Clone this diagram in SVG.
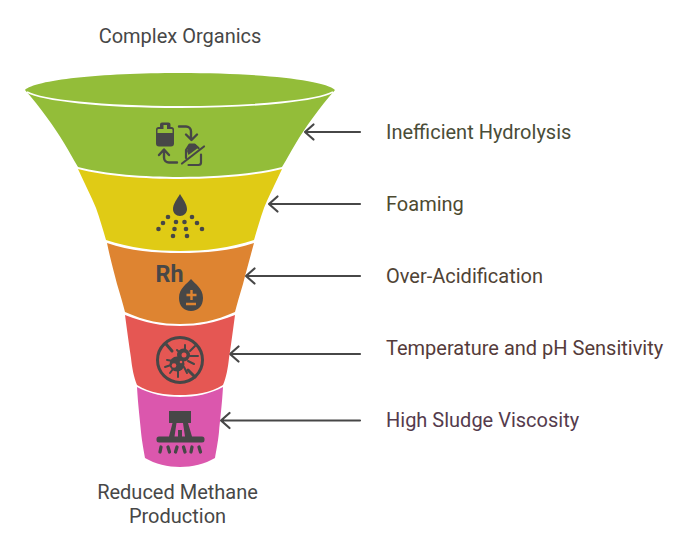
<svg xmlns="http://www.w3.org/2000/svg" width="697" height="552" viewBox="0 0 697 552">
<style>
text{font-family:Roboto,"Liberation Sans",sans-serif;font-size:20px}
.i{fill:#474747}
.s{fill:none;stroke:#474747;stroke-linecap:round;stroke-linejoin:round}
.c{fill:none;stroke:#474747;stroke-width:2.200;stroke-linecap:round;stroke-linejoin:round}
</style>
<rect width="697" height="552" fill="#fff"/>
<g id="connectors">
<path class="c" d="M360 132H305M313.500 124.500L305 132L313.500 139.500"/>
<path class="c" d="M360 204H269M277.500 196.500L269 204L277.500 211.500"/>
<path class="c" d="M360 276H246M254.500 268.500L246 276L254.500 283.500"/>
<path class="c" d="M360 354H230M238.500 346.500L230 354L238.500 361.500"/>
<path class="c" d="M360 420.500H221M229.500 413L221 420.500L229.500 428"/>
</g>
<g id="node-green">
<path fill="#93BD39" d="M25 90C35 80 100 73 180 73C260 73 325 80 335 90C320 107 305 128 296 143C291 151 287 159 282 167C255 174 215 177 180 177C145 177 105 174 78 167C73 159 69 151 64 143C55 128 40 107 25 90Z"/>
<path d="M27 92C42 100 100 107 180 107C260 107 318 100 333 92" fill="none" stroke="#fff" stroke-width="1.800"/>
<path class="i" d="M162 122.500h6.500a2 2 0 0 1 2 2v2.500h1a2.500 2.500 0 0 1 2.500 2.500v14a3 3 0 0 1-3 3h-12a3 3 0 0 1-3-3v-14a2.500 2.500 0 0 1 2.500-2.500h1.500v-2.500a2 2 0 0 1 2-2z"/>
<path fill="#93BD39" d="M163.500 125h3.500v4h4.500a1 1 0 0 1 1 1v3h-15v-3a1 1 0 0 1 1-1h5z"/>
<path class="s" stroke-width="2.400" d="M179 126.500h7a5 5 0 0 1 5 5v8M186 134.500l5.500 5.500 5.500-5.500M177 162.500h-8a5 5 0 0 1-5-5v-7.500M159 155l5-5.500 5 5.500"/>
<path class="s" stroke-width="2.200" d="M182 163.500l22-17M201 154.500v8a2.500 2.500 0 0 1-2.500 2.500h-10M186 158v-8l3.500-5.500h5l4 3.500"/>
<path class="i" d="M189.500 144h5.500l3.500 3.500-10 7.500-1.500-4z"/>
</g>
<g id="node-yellow">
<path fill="#E0CB15" d="M78 169C105 176 145 179 180 179C215 179 255 176 282 169C276 182 268 198 264 208C260 219 257 230 254 240C230 248 205 251 180 251C155 251 130 248 106 240C103 230 100 219 96 208C92 198 84 182 78 169Z"/>
<path class="i" d="M180 194C177 199 173 204 173 209C173 213 176 216 180 216C184 216 187 213 187 209C187 204 183 199 180 194Z"/>
<g class="i"><circle cx="168" cy="217" r="2.300"/><circle cx="192" cy="217" r="2.300"/><circle cx="163" cy="223" r="2.300"/><circle cx="197" cy="223" r="2.300"/><circle cx="158.500" cy="229" r="2.300"/><circle cx="202" cy="229" r="2.300"/><circle cx="176" cy="222" r="2.300"/><circle cx="184.500" cy="222" r="2.300"/><circle cx="174.500" cy="229" r="2.300"/><circle cx="186" cy="229" r="2.300"/><circle cx="173" cy="236" r="2.300"/><circle cx="187" cy="236" r="2.300"/></g>
</g>
<g id="node-orange">
<path fill="#DE8431" d="M107 243C130 251 155 253 180 253C205 253 230 251 254 243C250 258 246 272 243 284C240 294 237 304 235 312C215 321 198 324 180 324C162 324 145 321 125 312C123 304 120 294 117 284C114 272 110 258 107 243Z"/>
<text x="155.500" y="282" style="font-size:23px;font-weight:700" textLength="28" lengthAdjust="spacingAndGlyphs" fill="#474747">Rh</text>
<path class="i" d="M191 279C187 284 179 288 179 298C179 306 184 311 191 311C198 311 203 306 203 298C203 288 195 284 191 279Z"/>
<path d="M191.500 290v10M186.500 295h10M186 304h10" stroke="#DE8431" stroke-width="2.400" fill="none"/>
</g>
<g id="node-red">
<path fill="#E55753" d="M125 315C145 323 162 326 180 326C198 326 215 323 235 315C233 330 231 345 229 358C228 368 226 378 223 385C210 393 195 395 180 395C165 395 150 393 137 385C134 378 132 368 131 358C129 345 127 330 125 315Z"/>
<circle cx="180" cy="360" r="22.500" fill="none" stroke="#474747" stroke-width="3"/>
<path class="s" stroke-width="3" d="M166 344l6 7M188 370l7 7"/>
<circle class="i" cx="183.500" cy="355" r="6.500"/><circle class="i" cx="177" cy="364" r="7.500"/>
<path class="s" stroke-width="2" d="M177 350l3 3M185 345v5M195 346l-5 5M198 356h-8M194 364l-6-3M187 373l-3-6M178 377v-6M170 373l3-4M165 367l6-2M167 360l6 1"/>
<circle cx="184" cy="355" r="2.500" fill="#E55753"/><circle cx="174" cy="365.500" r="2.300" fill="#E55753"/><circle cx="181" cy="362" r="1.300" fill="#E55753"/>
</g>
<g id="node-pink">
<path fill="#DB57AD" d="M137 387C150 394 165 397 180 397C195 397 210 394 223 387C222 405 220 420 219 432C218 442 216 452 215 458C205 464 192 467 180 467C168 467 155 464 145 458C144 452 142 442 141 432C140 420 138 405 137 387Z"/>
<rect class="i" x="169" y="411" width="22" height="12"/>
<path class="i" d="M172.500 423h4l-2 13.500h10.500l-2-13.500h5l4 13.500h10a2.500 2.500 0 0 1 2.500 2.500v1a2.500 2.500 0 0 1-2.500 2.500h-43a2.500 2.500 0 0 1-2.500-2.500v-1a2.500 2.500 0 0 1 2.500-2.500h10z"/>
<rect class="i" x="178" y="430" width="4" height="8"/>
<path class="s" stroke-width="3.300" d="M161 447l-1 5M168 447l1.500 5M177 447l-1.500 5M183.500 447l1.500 5M192 447l-1 5M199 447l1.500 5"/>
</g>
<g id="labels">
<text x="180" y="43" text-anchor="middle" fill="#474747">Complex Organics</text>
<text x="177.500" y="499" text-anchor="middle" fill="#474747">Reduced Methane</text>
<text x="177.500" y="523" text-anchor="middle" fill="#474747">Production</text>
<text x="386" y="139" fill="#4a4d38">Inefficient Hydrolysis</text>
<text x="386" y="211" fill="#4d4a30">Foaming</text>
<text x="386" y="283" fill="#4f4335">Over-Acidification</text>
<text x="386" y="355" fill="#553b3a">Temperature and pH Sensitivity</text>
<text x="386" y="427" fill="#553b4d">High Sludge Viscosity</text>
</g>
</svg>
